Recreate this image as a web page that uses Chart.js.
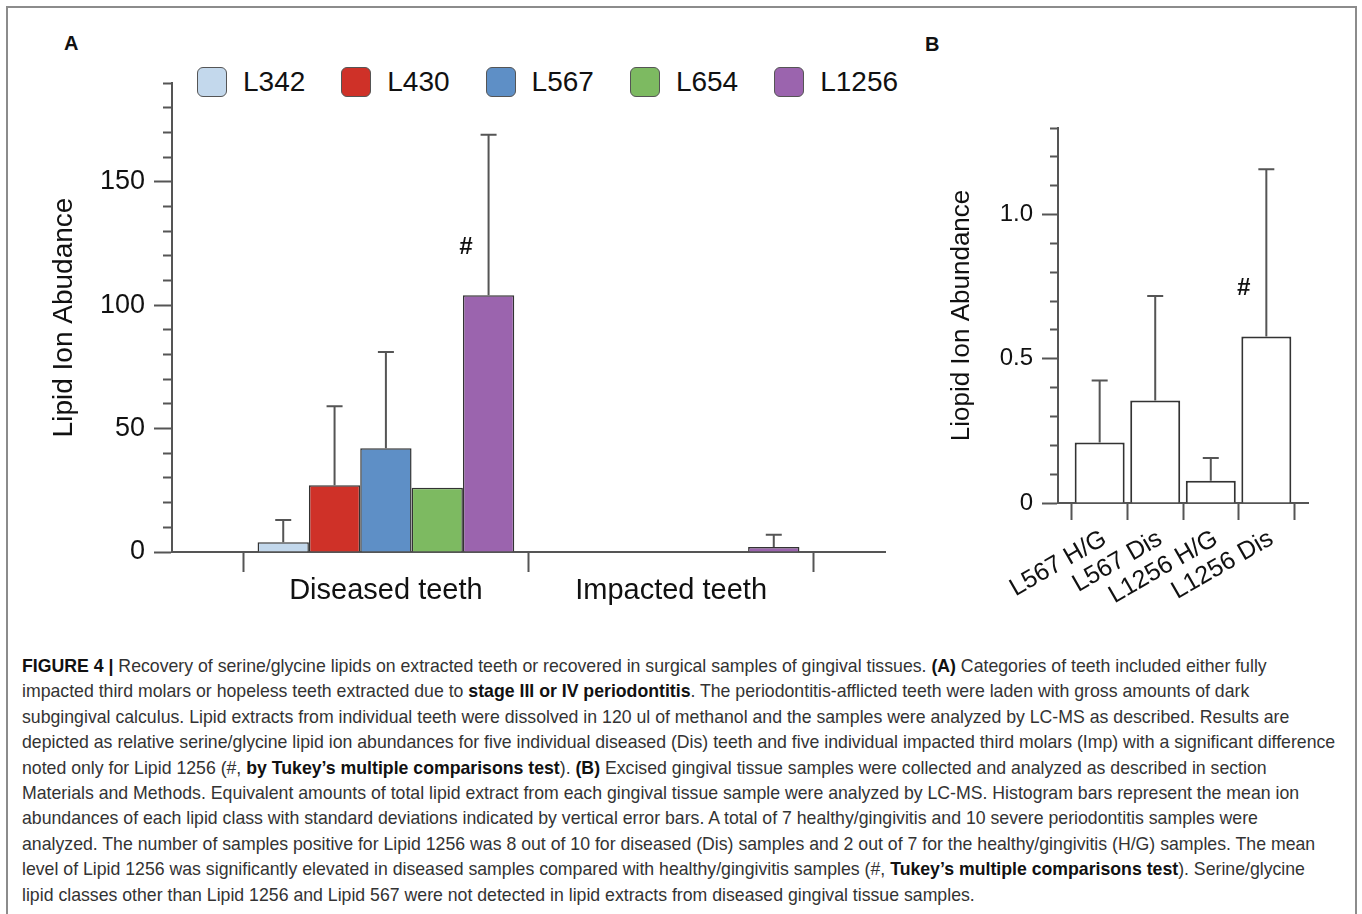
<!DOCTYPE html>
<html>
<head>
<meta charset="utf-8">
<title>Figure 4</title>
<script src="https://cdn.jsdelivr.net/npm/chart.js@4.4.1/dist/chart.umd.min.js"></script>
<style>
  body { margin: 0; background: #fff; font-family: "Liberation Sans", Arial, sans-serif; color: #111; }
  #page { position: relative; width: 1362px; height: 914px; overflow: hidden; }
  #frame { position: absolute; left: 6px; top: 6px; width: 1351px; height: 960px; border: 2px solid #8c8c8c; box-sizing: border-box; }
  .tag { position: absolute; font-weight: bold; font-size: 20px; line-height: 20px; }
  #chartA { position: absolute; left: 20px; top: 40px; }
  #chartB { position: absolute; left: 920px; top: 40px; }
  #legendA { position: absolute; left: 197px; top: 67px; display: flex; gap: 36px; font-size: 28px; }
  #legendA .item { display: flex; align-items: center; height: 30px; }
  #legendA .swatch { width: 30px; height: 30px; box-sizing: border-box; border: 1.5px solid #555; border-radius: 6px; margin-right: 16px; }
  #caption { position: absolute; left: 22px; top: 654px; font-size: 17.7px; line-height: 25.4px; color: #333; white-space: nowrap; }
  #caption b { color: #111; }
</style>
</head>
<body>
<div id="page">
  <div id="frame"></div>
  <div class="tag" style="left:64px; top:33px;">A</div>
  <div class="tag" style="left:925px; top:34px;">B</div>
  <div id="legendA"></div>
  <canvas id="chartA" width="900" height="600"></canvas>
  <canvas id="chartB" width="430" height="600"></canvas>
  <div id="caption">
    <b>FIGURE 4 |</b> Recovery of serine/glycine lipids on extracted teeth or recovered in surgical samples of gingival tissues. <b>(A)</b> Categories of teeth included either fully<br>
    impacted third molars or hopeless teeth extracted due to <b>stage III or IV periodontitis</b>. The periodontitis-afflicted teeth were laden with gross amounts of dark<br>
    subgingival calculus. Lipid extracts from individual teeth were dissolved in 120 ul of methanol and the samples were analyzed by LC-MS as described. Results are<br>
    depicted as relative serine/glycine lipid ion abundances for five individual diseased (Dis) teeth and five individual impacted third molars (Imp) with a significant difference<br>
    noted only for Lipid 1256 (#, <b>by Tukey’s multiple comparisons test</b>). <b>(B)</b> Excised gingival tissue samples were collected and analyzed as described in section<br>
    Materials and Methods. Equivalent amounts of total lipid extract from each gingival tissue sample were analyzed by LC-MS. Histogram bars represent the mean ion<br>
    abundances of each lipid class with standard deviations indicated by vertical error bars. A total of 7 healthy/gingivitis and 10 severe periodontitis samples were<br>
    analyzed. The number of samples positive for Lipid 1256 was 8 out of 10 for diseased (Dis) samples and 2 out of 7 for the healthy/gingivitis (H/G) samples. The mean<br>
    level of Lipid 1256 was significantly elevated in diseased samples compared with healthy/gingivitis samples (#, <b>Tukey’s multiple comparisons test</b>). Serine/glycine<br>
    lipid classes other than Lipid 1256 and Lipid 567 were not detected in lipid extracts from diseased gingival tissue samples.
  </div>
</div>
<script>
// panel A - teeth
const groups = ["Diseased teeth", "Impacted teeth"];
const lipids = ["L342", "L430", "L567", "L654", "L1256"];
const l342 = [4, 0];
const l342Sd = [9, 0];
const l430 = [27, 0];
const l430Sd = [32, 0];
const l567 = [42, 0];
const l567Sd = [39, 0];
const l654 = [26, 0];
const l654Sd = [0, 0];
const l1256 = [104, 2];
const l1256Sd = [65, 5];
const l1256Sig = ["#", ""];
const yTicksA = [0, 50, 100, 150];

// panel B - gingival tissue
const tissueLabels = ["L567 H/G", "L567 Dis", "L1256 H/G", "L1256 Dis"];
const tissueMeans = [0.21, 0.355, 0.077, 0.577];
const tissueSd = [0.215, 0.363, 0.079, 0.58];
const tissueSig = ["", "", "", "#"];
const yTicksB = [0, 0.5, 1.0];

const lipidColors = ["#c3d8ec", "#cf3128", "#5e8fc6", "#7dba61", "#9b64ae"];
const axisColor = "#555";
const font = "'Liberation Sans', Arial, sans-serif";

function points(values) {
  return values.map((v, i) => ({ x: i, y: v }));
}

// draws the upper SD whisker and the # marks
const errorBars = {
  id: "errorBars",
  afterDatasetsDraw(chart) {
    const ctx = chart.ctx;
    const yScale = chart.scales.y;
    chart.data.datasets.forEach((ds, i) => {
      chart.getDatasetMeta(i).data.forEach((bar, j) => {
        const sd = ds.sd[j];
        ctx.save();
        if (sd > 0) {
          const top = yScale.getPixelForValue(ds.data[j].y + sd);
          ctx.strokeStyle = axisColor;
          ctx.lineWidth = 2;
          ctx.beginPath();
          ctx.moveTo(bar.x, bar.y);
          ctx.lineTo(bar.x, top);
          ctx.moveTo(bar.x - 8, top);
          ctx.lineTo(bar.x + 8, top);
          ctx.stroke();
        }
        if (ds.sig && ds.sig[j]) {
          ctx.fillStyle = "#111";
          ctx.font = "italic bold 24px " + font;
          ctx.textAlign = "center";
          ctx.textBaseline = "middle";
          ctx.fillText(ds.sig[j], bar.x - 23, bar.y - 48);
        }
        ctx.restore();
      });
    });
  },
};

// tick marks sit between groups, labels sit under the group centres
function boundaryTicks(n) {
  return (scale) => {
    scale.ticks = [];
    for (let i = 0; i <= n; i++) scale.ticks.push({ value: i - 0.5 });
  };
}

function centerTicks(n) {
  return (scale) => {
    scale.ticks = [];
    for (let i = 0; i < n; i++) scale.ticks.push({ value: i });
  };
}

function minorDash(isMajor, len) {
  return {
    tickBorderDash: (c) => (c.tick && isMajor(c.tick.value) ? [] : [len, len]),
    tickBorderDashOffset: len,
  };
}

const lipidSd = [l342Sd, l430Sd, l567Sd, l654Sd, l1256Sd];
const lipidValues = [l342, l430, l567, l654, l1256];

new Chart(document.getElementById("chartA"), {
  type: "bar",
  data: {
    datasets: lipids.map((name, i) => ({
      label: name,
      data: points(lipidValues[i]),
      sd: lipidSd[i],
      sig: name === "L1256" ? l1256Sig : null,
      backgroundColor: lipidColors[i],
      borderColor: "#333",
      borderWidth: 1.5,
      categoryPercentage: 0.9,
      barPercentage: 1.0,
    })),
  },
  options: {
    responsive: false,
    animation: false,
    layout: { padding: { left: 0, right: 35, top: 43, bottom: 0 } },
    plugins: { legend: { display: false }, tooltip: { enabled: false } },
    scales: {
      x: {
        type: "linear",
        bounds: "data",
        offset: false,
        min: -0.75,
        max: groups.length - 0.25,
        afterBuildTicks: boundaryTicks(groups.length),
        ticks: { display: false },
        grid: { offset: false, drawOnChartArea: false, tickLength: 20, tickWidth: 2, tickColor: axisColor },
        border: { color: axisColor, width: 2 },
        afterFit: (s) => { s.height = 20; },
      },
      xLab: {
        type: "linear",
        position: "bottom",
        weight: 1,
        bounds: "data",
        offset: false,
        min: -0.75,
        max: groups.length - 0.25,
        afterBuildTicks: centerTicks(groups.length),
        ticks: {
          callback: (v) => groups[v],
          autoSkip: false,
          maxRotation: 0,
          padding: -6,
          color: "#111",
          font: { family: font, size: 29 },
        },
        grid: { display: false, offset: false },
        border: { display: false },
        afterFit: (s) => { s.height = 68; },
      },
      y: {
        min: 0,
        max: 190,
        ticks: {
          stepSize: 10,
          autoSkip: false,
          padding: 9,
          color: "#111",
          font: { family: font, size: 27 },
          callback: (v) => (yTicksA.includes(v) ? v : ""),
        },
        grid: Object.assign(
          { drawOnChartArea: false, tickLength: 18, tickWidth: 2, tickColor: axisColor },
          minorDash((v) => yTicksA.includes(v), 9)
        ),
        border: { color: axisColor, width: 2 },
        title: {
          display: true,
          text: "Lipid Ion Abudance",
          color: "#111",
          font: { family: font, size: 28 },
          padding: { top: 27, bottom: 0 },
        },
        afterFit: (s) => { s.width = 152; },
      },
    },
  },
  plugins: [errorBars],
});

new Chart(document.getElementById("chartB"), {
  type: "bar",
  data: {
    datasets: [
      {
        label: "Gingival tissue",
        data: points(tissueMeans),
        sd: tissueSd,
        sig: tissueSig,
        backgroundColor: "#fff",
        borderColor: "#333",
        borderWidth: 2,
        categoryPercentage: 0.9,
        barPercentage: 1.0,
      },
    ],
  },
  options: {
    responsive: false,
    animation: false,
    layout: { padding: { left: 0, right: 42, top: 88, bottom: 0 } },
    plugins: { legend: { display: false }, tooltip: { enabled: false } },
    scales: {
      x: {
        type: "linear",
        bounds: "data",
        offset: false,
        min: -0.75,
        max: tissueLabels.length - 0.25,
        afterBuildTicks: boundaryTicks(tissueLabels.length),
        ticks: { display: false },
        grid: { offset: false, drawOnChartArea: false, tickLength: 17, tickWidth: 2, tickColor: axisColor },
        border: { color: axisColor, width: 2 },
        afterFit: (s) => { s.height = 17; },
      },
      xLab: {
        type: "linear",
        position: "bottom",
        weight: 1,
        bounds: "data",
        offset: false,
        min: -0.75,
        max: tissueLabels.length - 0.25,
        afterBuildTicks: centerTicks(tissueLabels.length),
        ticks: {
          callback: (v) => tissueLabels[v],
          autoSkip: false,
          minRotation: 30,
          maxRotation: 30,
          padding: -4,
          labelOffset: 5,
          color: "#111",
          font: { family: font, size: 25 },
        },
        grid: { display: false, offset: false },
        border: { display: false },
        afterFit: (s) => { s.height = 120; },
      },
      y: {
        min: 0,
        max: 1.3,
        ticks: {
          stepSize: 0.1,
          autoSkip: false,
          padding: 9,
          color: "#111",
          font: { family: font, size: 24 },
          callback: (v) => (yTicksB.includes(v) ? (v === 0 ? "0" : v.toFixed(1)) : ""),
        },
        grid: Object.assign(
          { drawOnChartArea: false, tickLength: 16, tickWidth: 2, tickColor: axisColor },
          minorDash((v) => yTicksB.includes(v), 8)
        ),
        border: { color: axisColor, width: 2 },
        title: {
          display: true,
          text: "Liopid Ion Abundance",
          color: "#111",
          font: { family: font, size: 26 },
          padding: { top: 26, bottom: 0 },
        },
        afterFit: (s) => { s.width = 138; },
      },
    },
  },
  plugins: [errorBars],
});

// legend for panel A, built from the same names and colours as the bars
const legendA = document.getElementById("legendA");
lipids.forEach((name, i) => {
  const item = document.createElement("div");
  item.className = "item";
  const swatch = document.createElement("span");
  swatch.className = "swatch";
  swatch.style.background = lipidColors[i];
  item.appendChild(swatch);
  item.appendChild(document.createTextNode(name));
  legendA.appendChild(item);
});
</script>
</body>
</html>
